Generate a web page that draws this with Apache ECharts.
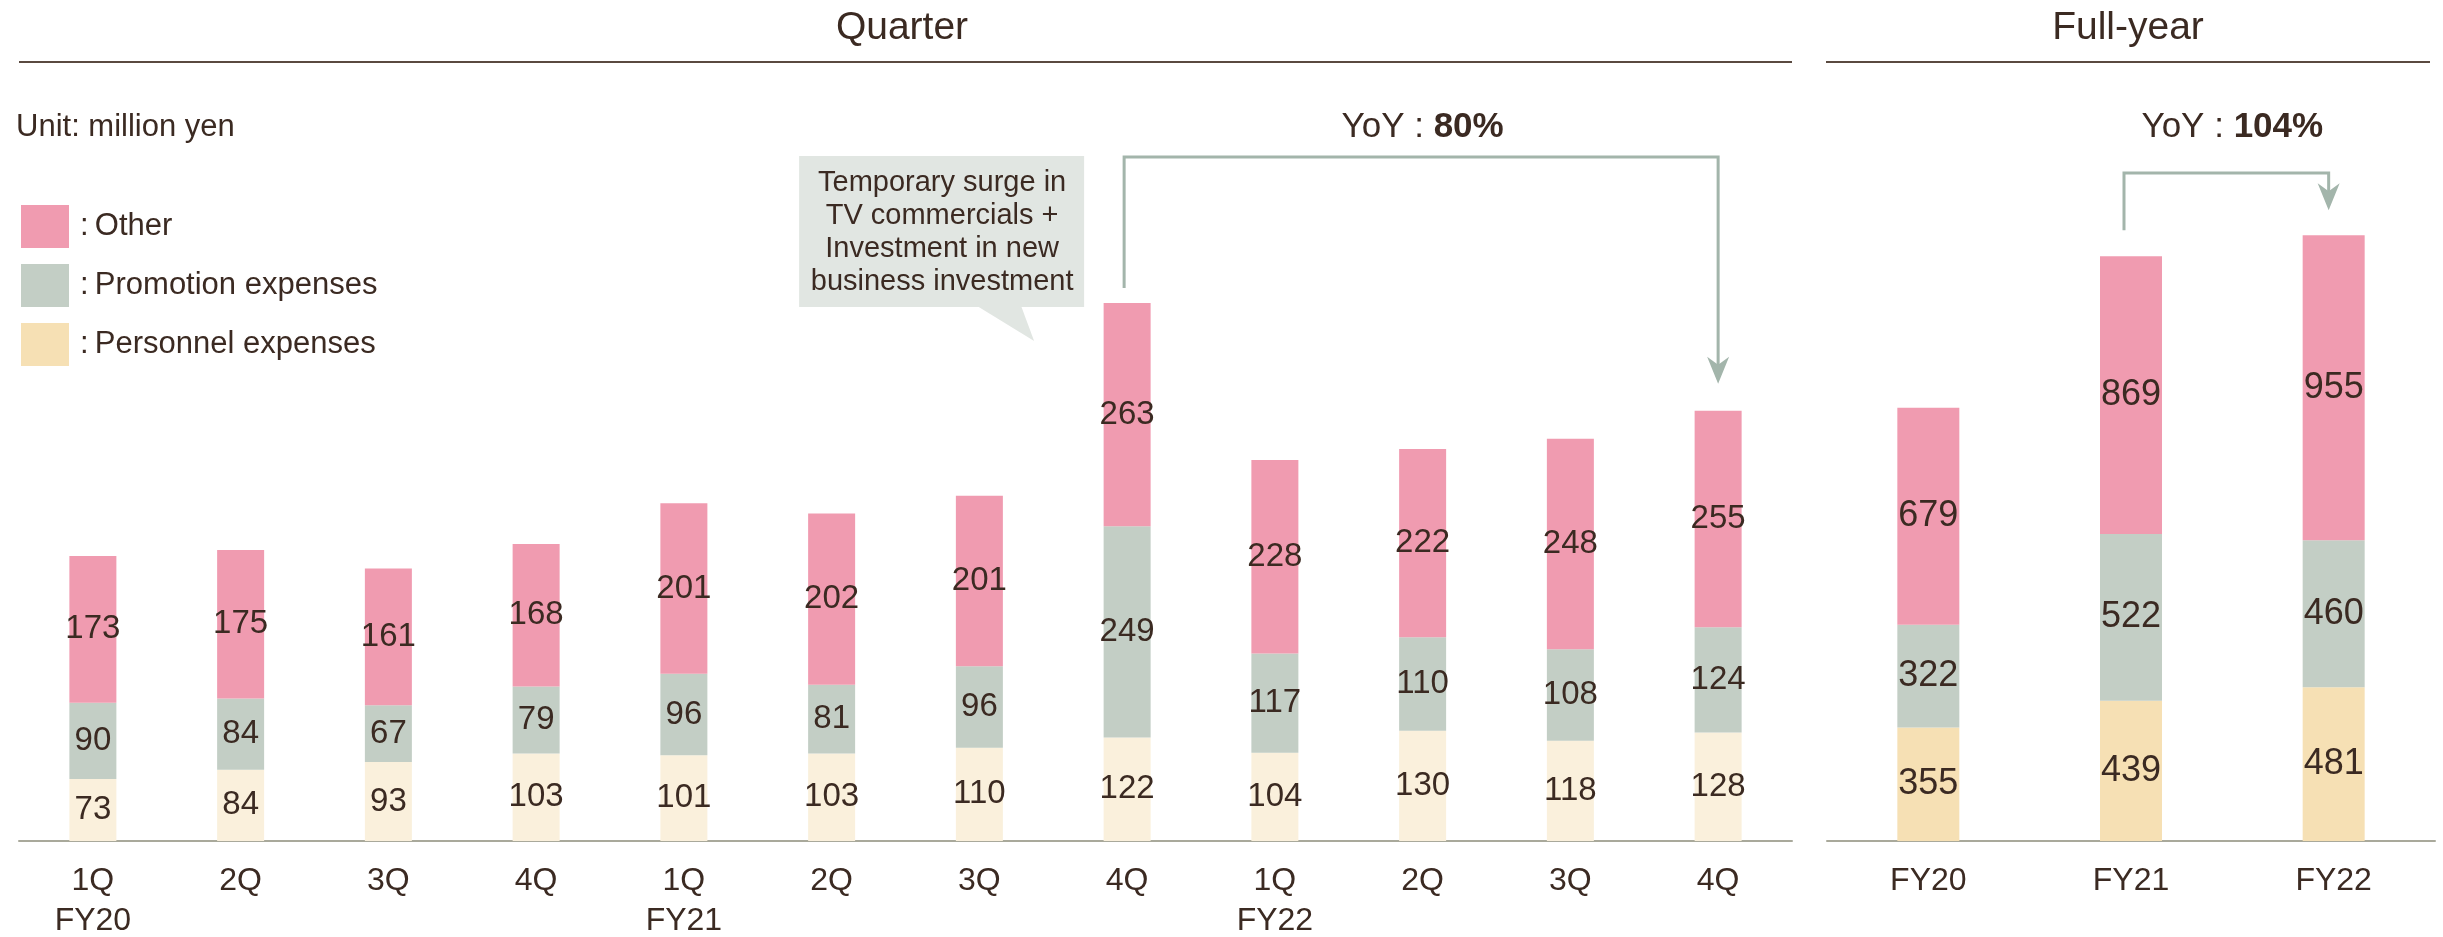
<!DOCTYPE html>
<html>
<head>
<meta charset="utf-8">
<script src="https://cdn.jsdelivr.net/npm/echarts@6/dist/echarts.min.js"></script>
<style>
    html, body { margin: 0; padding: 0; background: #fff; }
    #chart { width: 2443px; height: 937px; }
</style>
</head>
<body>
<div id="chart"></div>
<script>
    // quarterly data (million yen)
    const quarters = ['1Q\nFY20', '2Q', '3Q', '4Q', '1Q\nFY21', '2Q', '3Q', '4Q', '1Q\nFY22', '2Q', '3Q', '4Q'];
    const qPersonnel = [73, 84, 93, 103, 101, 103, 110, 122, 104, 130, 118, 128];
    const qPromotion = [90, 84, 67, 79, 96, 81, 96, 249, 117, 110, 108, 124];
    const qOther = [173, 175, 161, 168, 201, 202, 201, 263, 228, 222, 248, 255];

    // full-year data
    const years = ['FY20', 'FY21', 'FY22'];
    const yPersonnel = [355, 439, 481];
    const yPromotion = [322, 522, 460];
    const yOther = [679, 869, 955];

    const names = ['Other', 'Promotion expenses', 'Personnel expenses'];
    const yoyQuarter = '80%';
    const yoyYear = '104%';
    const calloutLines = ['Temporary surge in', 'TV commercials +', 'Investment in new', 'business investment'];

    const font = '"Liberation Sans", Arial, Helvetica, sans-serif';
    const textColor = '#3b2a22';
    const cOther = '#f09bb0';
    const cPromo = '#c3cec5';
    const cPersQ = '#faf0dc';
    const cPersY = '#f6e0b4';
    const arrowColor = '#a3b5ab';

    let chart = echarts.init(document.getElementById('chart'));

    function barSeries(name, data, color, idx, size, width) {
        return {
            name: name,
            type: 'bar',
            stack: 'g' + idx,
            xAxisIndex: idx,
            yAxisIndex: idx,
            barWidth: width,
            itemStyle: {color: color},
            label: {
                show: true,
                position: 'inside',
                fontSize: size,
                fontFamily: font,
                color: textColor
            },
            data: data
        };
    }

    let xAxisBase = {
        type: 'category',
        axisLine: {lineStyle: {color: '#a9a99b', width: 2}},
        axisTick: {show: false},
        axisLabel: {
            fontSize: 32,
            lineHeight: 40,
            margin: 20,
            color: textColor,
            fontFamily: font,
            interval: 0
        }
    };

    let option = {
        animation: false,
        legend: {
            orient: 'vertical',
            left: 16,
            top: 200,
            itemWidth: 48,
            itemHeight: 43,
            itemGap: 16,
            icon: 'rect',
            selectedMode: false,
            formatter: ':\u2009{name}',
            textStyle: {fontSize: 31, color: textColor, fontFamily: font, padding: [0, 0, 0, 6]},
            data: [
                {name: names[0], itemStyle: {color: cOther}},
                {name: names[1], itemStyle: {color: cPromo}},
                {name: names[2], itemStyle: {color: cPersY}}
            ]
        },
        grid: [
            {left: 19, right: 651, top: 247, bottom: 96, outerBoundsMode: 'none'},
            {left: 1827, right: 8, top: 202, bottom: 96, outerBoundsMode: 'none'}
        ],
        xAxis: [
            Object.assign({}, xAxisBase, {gridIndex: 0, data: quarters}),
            Object.assign({}, xAxisBase, {gridIndex: 1, data: years})
        ],
        yAxis: [
            {type: 'value', gridIndex: 0, min: 0, max: 700, show: false},
            {type: 'value', gridIndex: 1, min: 0, max: 2000, show: false}
        ],
        series: [
            barSeries(names[2], qPersonnel, cPersQ, 0, 33, 47),
            barSeries(names[1], qPromotion, cPromo, 0, 33, 47),
            barSeries(names[0], qOther, cOther, 0, 33, 47),
            barSeries(names[2], yPersonnel, cPersY, 1, 36, 62),
            barSeries(names[1], yPromotion, cPromo, 1, 36, 62),
            barSeries(names[0], yOther, cOther, 1, 36, 62)
        ]
    };
    chart.setOption(option);

    // annotations placed from the bars' pixel positions
    function px(g, i, v) {
        return chart.convertToPixel({xAxisIndex: g, yAxisIndex: g}, [i, v]);
    }
    let qTot = qOther.map((v, i) => v + qPromotion[i] + qPersonnel[i]);
    let yTot = yOther.map((v, i) => v + yPromotion[i] + yPersonnel[i]);

    function arrowHead(x, tipY) {
        return {
            type: 'polygon',
            shape: {points: [[x, tipY], [x - 11, tipY - 27], [x, tipY - 19], [x + 11, tipY - 27]]},
            style: {fill: arrowColor}
        };
    }
    function bracket(x1, y1, x2, tipY, topY) {
        return [
            {
                type: 'polyline',
                shape: {points: [[x1, y1], [x1, topY], [x2, topY], [x2, tipY - 18]]},
                style: {stroke: arrowColor, lineWidth: 3, fill: null}
            },
            arrowHead(x2, tipY)
        ];
    }
    function yoyText(x, y, pct) {
        return {
            type: 'text',
            x: x,
            y: y,
            style: {
                text: '{a|YoY : }{b|' + pct + '}',
                align: 'center',
                verticalAlign: 'middle',
                rich: {
                    a: {fontSize: 35, fontFamily: font, fill: textColor},
                    b: {fontSize: 35, fontFamily: font, fontWeight: 'bold', fill: textColor}
                }
            }
        };
    }

    let a = px(0, 7, qTot[7]);
    let b = px(0, 11, qTot[11]);
    let c = px(1, 1, yTot[1]);
    let d = px(1, 2, yTot[2]);

    let graphics = [
        {type: 'text', x: 902, y: 28, style: {text: 'Quarter', fontSize: 39, fontFamily: font, fill: textColor, align: 'center', verticalAlign: 'middle'}},
        {type: 'text', x: 2128, y: 28, style: {text: 'Full-year', fontSize: 39, fontFamily: font, fill: textColor, align: 'center', verticalAlign: 'middle'}},
        {type: 'line', shape: {x1: 19, y1: 62, x2: 1792, y2: 62}, style: {stroke: '#5a4a40', lineWidth: 2}},
        {type: 'line', shape: {x1: 1826, y1: 62, x2: 2430, y2: 62}, style: {stroke: '#5a4a40', lineWidth: 2}},
        {type: 'text', x: 16, y: 127, style: {text: 'Unit: million yen', fontSize: 31, fontFamily: font, fill: textColor, verticalAlign: 'middle'}},
        // callout box
        {type: 'rect', shape: {x: a[0] - 328, y: 156, width: 285, height: 151}, style: {fill: '#e1e6e2'}},
        {type: 'polygon', shape: {points: [[a[0] - 150, 306], [a[0] - 106, 306], [a[0] - 93, 341]]}, style: {fill: '#e1e6e2'}},
        {type: 'text', x: a[0] - 185, y: 232, style: {text: calloutLines.join('\n'), fontSize: 29, lineHeight: 33, fontFamily: font, fill: textColor, align: 'center', verticalAlign: 'middle'}},
        yoyText((a[0] + b[0]) / 2, 127, yoyQuarter),
        yoyText((c[0] + d[0]) / 2, 127, yoyYear)
    ];
    graphics = graphics.concat(bracket(a[0] - 3, a[1] - 15, b[0], b[1] - 27, 157));
    graphics = graphics.concat(bracket(c[0] - 7, c[1] - 26, d[0] - 5, d[1] - 25, 173));

    chart.setOption({graphic: graphics});

    window.addEventListener("resize", function () {
        chart.resize();
    });
</script>
</body>
</html>
